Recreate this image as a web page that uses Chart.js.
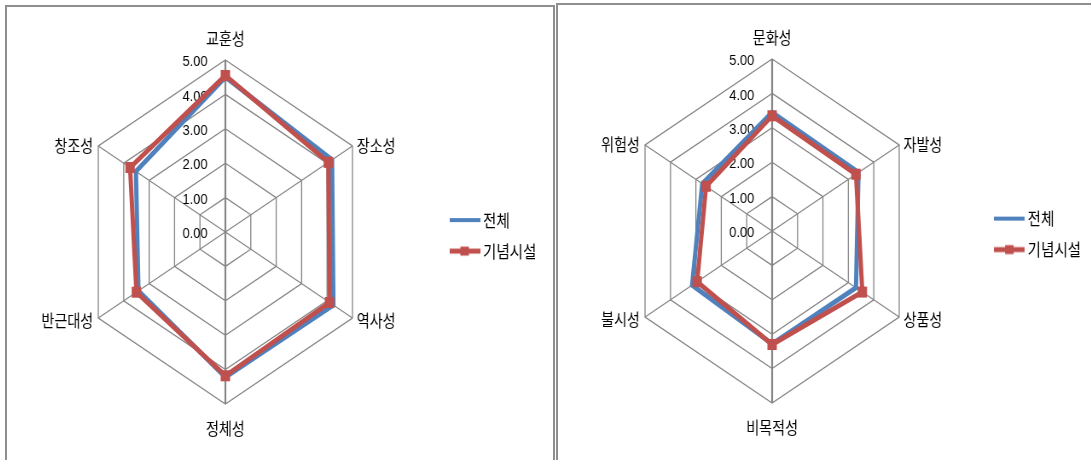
<!DOCTYPE html>
<html>
<head>
<meta charset="utf-8">
<script src="https://cdn.jsdelivr.net/npm/chart.js@4.4.1/dist/chart.umd.min.js"></script>
<style>
  html, body { margin: 0; padding: 0; background: #fff; width: 1091px; height: 460px; overflow: hidden; }
  .wrap { position: absolute; top: 0; height: 460px; transform: scaleX(0.853); transform-origin: 0 0; }
  .panel { position: absolute; box-sizing: border-box; border: 2px solid #8e8e8e; pointer-events: none; }
</style>
</head>
<body>
<div class="wrap" style="left:7px;width:640px"><canvas id="left" width="640" height="460"></canvas></div>
<div class="wrap" style="left:558px;width:625px"><canvas id="right" width="625" height="460"></canvas></div>
<div class="panel" style="left:5px;top:5px;width:550px;height:480px"></div>
<div class="panel" style="left:556px;top:3px;width:560px;height:480px"></div>
<script>
// ---------- data ----------
const seriesNames = ["전체", "기념시설"];
const tickLabels = ["0.00", "1.00", "2.00", "3.00", "4.00", "5.00"];

const leftLabels = ["교훈성", "장소성", "역사성", "정체성", "반근대성", "창조성"];
const leftTotal = [4.50, 4.20, 4.25, 4.22, 3.42, 3.52];
const leftMemorial = [4.55, 4.05, 4.10, 4.18, 3.50, 3.75];

const rightLabels = ["문화성", "자발성", "상품성", "비목적성", "불시성", "위험성"];
const rightTotal = [3.45, 3.40, 3.30, 3.28, 3.15, 2.75];
const rightMemorial = [3.35, 3.30, 3.55, 3.30, 2.95, 2.60];

const BLUE = "#4f81bd";
const RED = "#c0504d";
const GRID = "#858585";
const KFONT = '"Noto Sans CJK KR", "Noto Sans", sans-serif';

// ---------- legend icons (line / line + square) ----------
function makeIcon(color, withMarker) {
  const c = document.createElement("canvas");
  c.width = 36; c.height = 12;
  const g = c.getContext("2d");
  g.strokeStyle = color;
  g.lineWidth = withMarker ? 5 : 4;
  g.beginPath(); g.moveTo(0, 6); g.lineTo(36, 6); g.stroke();
  if (withMarker) { g.fillStyle = color; g.fillRect(13, 1.5, 10, 9); }
  return c;
}
const legendIcons = [makeIcon(BLUE, false), makeIcon(RED, true)];

// ---------- axis texts drawn the Excel way ----------
const excelText = {
  id: "excelText",
  beforeDatasetsDraw(chart) {
    const r = chart.scales.r, ctx = chart.ctx;
    ctx.save();
    ctx.font = '15px "Liberation Sans", sans-serif';
    ctx.fillStyle = "#000";
    ctx.textAlign = "right";
    ctx.textBaseline = "middle";
    r.ticks.forEach(t => {
      const y = r.yCenter - r.getDistanceFromCenterForValue(t.value);
      ctx.fillText(t.label, r.xCenter - 21, y + 2);
    });
    ctx.restore();
  },
  afterDraw(chart) {
    const r = chart.scales.r, ctx = chart.ctx;
    const labels = chart.data.labels;
    ctx.save();
    ctx.font = "16.5px " + KFONT;
    ctx.fillStyle = "#000";
    ctx.textBaseline = "middle";
    labels.forEach((lab, i) => {
      const p = r.getPointPosition(i, r.drawingArea);
      if (i === 0) { ctx.textAlign = "center"; ctx.fillText(lab, p.x, p.y - 21); }
      else if (i === 3) { ctx.textAlign = "center"; ctx.fillText(lab, p.x, p.y + 25); }
      else if (i < 3) { ctx.textAlign = "left"; ctx.fillText(lab, p.x + 5, p.y + (i === 2 ? 3 : 0)); }
      else { ctx.textAlign = "right"; ctx.fillText(lab, p.x - 6, p.y + (i === 4 ? 3 : 0)); }
    });
    ctx.restore();
  }
};

function renderRadar(canvasId, labels, total, memorial, pad) {
  const ctx = document.getElementById(canvasId);
  new Chart(ctx, {
    type: "radar",
    data: {
      labels: labels,
      datasets: [{
        label: seriesNames[0],
        data: total,
        borderColor: BLUE,
        backgroundColor: BLUE,
        borderWidth: 5,
        pointRadius: 0,
        fill: false,
        order: 2
      }, {
        label: seriesNames[1],
        data: memorial,
        borderColor: RED,
        backgroundColor: RED,
        borderWidth: 5,
        pointStyle: "rect",
        pointRadius: 7.8,
        pointBorderWidth: 0,
        fill: false,
        order: 1
      }]
    },
    options: {
      responsive: false,
      animation: false,
      devicePixelRatio: 1,
      layout: { padding: pad },
      scales: {
        r: {
          min: 0,
          max: 5,
          ticks: { display: false, stepSize: 1, callback: (v, i) => tickLabels[i] },
          pointLabels: { display: false },
          grid: { color: GRID, lineWidth: 1.3 },
          angleLines: { color: GRID, lineWidth: c => (c.index % 3 === 0 ? 2.2 : 1.3) }
        }
      },
      plugins: {
        tooltip: { enabled: false },
        legend: {
          position: "right",
          maxWidth: 110,
          title: { display: true, text: "", font: { size: 1 }, padding: { top: 5, bottom: 0 } },
          labels: {
            usePointStyle: true,
            pointStyleWidth: 26,
            padding: 14,
            color: "#000",
            font: { family: KFONT, size: 17 },
            sort: (a, b) => a.datasetIndex - b.datasetIndex,
            generateLabels: chart => {
              const items = Chart.defaults.plugins.legend.labels.generateLabels(chart);
              items.forEach(it => { it.pointStyle = legendIcons[it.datasetIndex]; });
              return items;
            }
          }
        }
      }
    },
    plugins: [excelText]
  });
}

renderRadar("left", leftLabels, leftTotal, leftMemorial, { left: 2.9, right: 20.5, top: 60, bottom: 55 });
renderRadar("right", rightLabels, rightTotal, rightMemorial, { left: 1.3, right: 12.9, top: 59, bottom: 57 });
</script>
</body>
</html>
